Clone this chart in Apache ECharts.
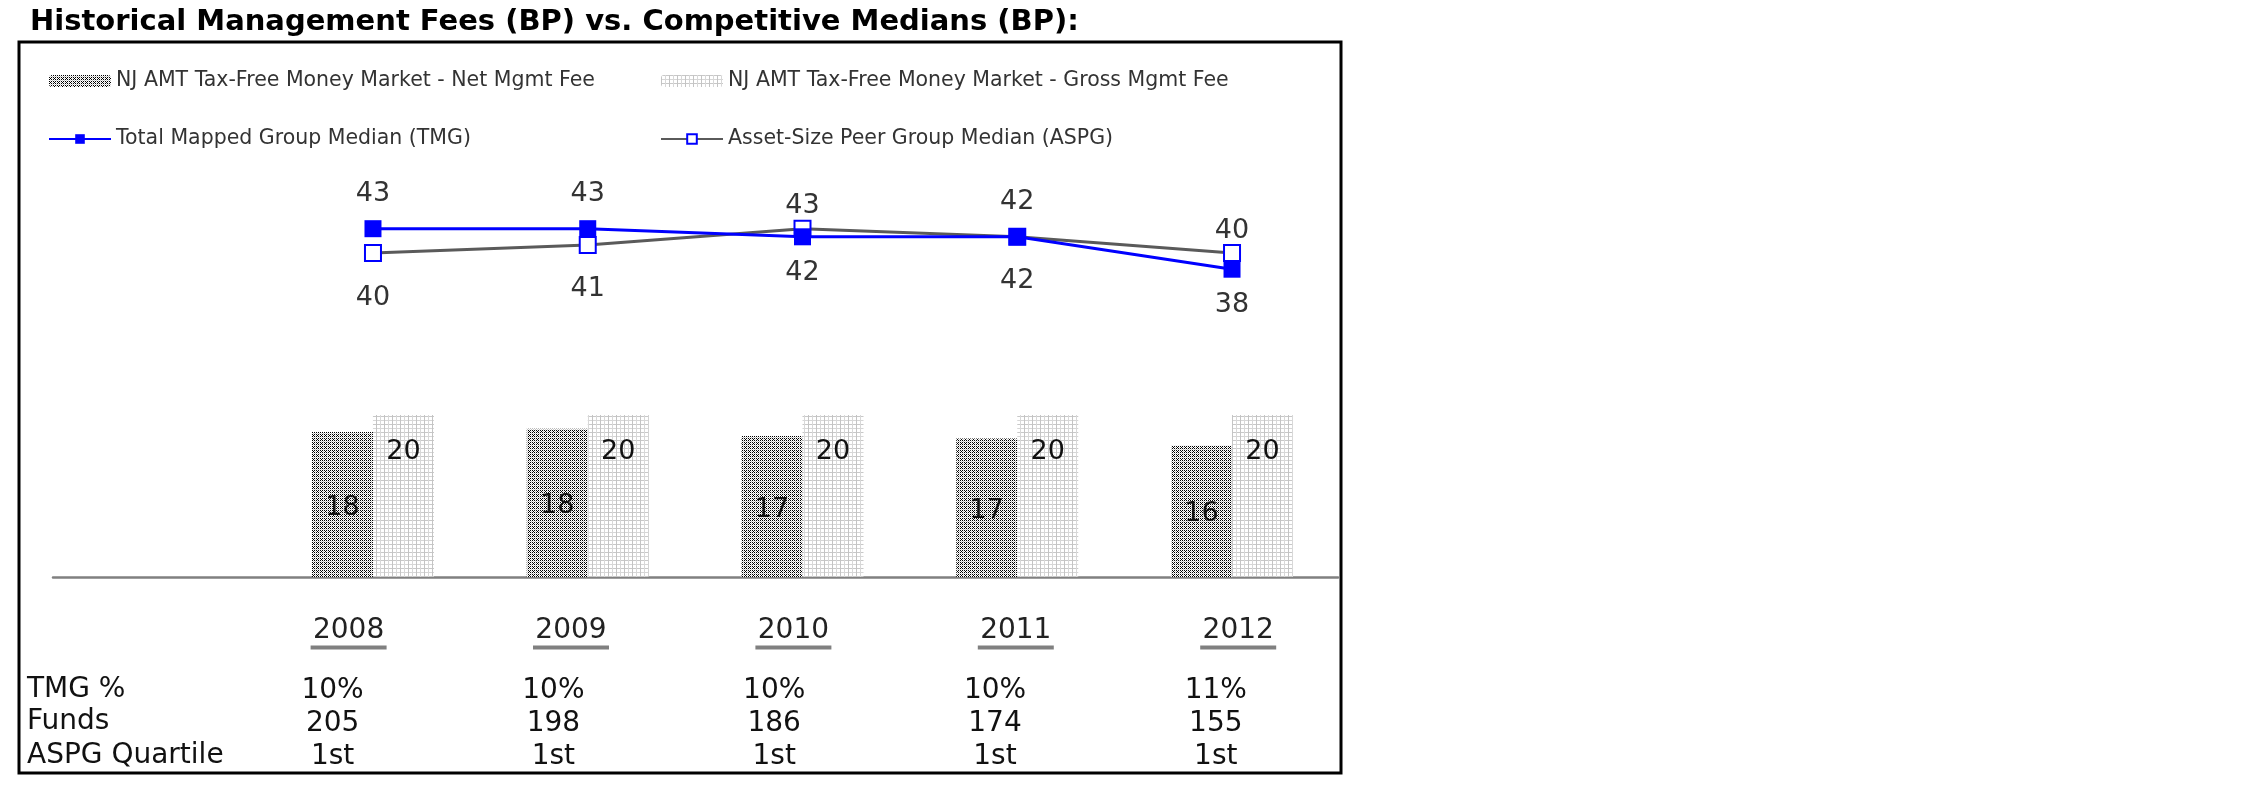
<!DOCTYPE html>
<html><head><meta charset="utf-8">
<script src="https://cdn.jsdelivr.net/npm/echarts/dist/echarts.min.js"></script>
<style>html,body{margin:0;padding:0;background:#fff}#c{width:2250px;height:796px}</style>
</head><body><div id="c"></div>
<script>
// ---- data ----
const years = ['2008', '2009', '2010', '2011', '2012'];
const netFee = [17.9, 18.3, 17.4, 17.1, 16.2];
const grossFee = [20, 20, 20, 20, 20];
const tmgMedian = [43, 43, 42, 42, 38];
const aspgMedian = [40, 41, 43, 42, 40];
const tmgPct = ['10%', '10%', '10%', '10%', '11%'];
const funds = [205, 198, 186, 174, 155];
const aspgQuartile = ['1st', '1st', '1st', '1st', '1st'];
const rowLabels = ['TMG %', 'Funds', 'ASPG Quartile'];
const seriesNames = [
  'NJ AMT Tax-Free Money Market - Net Mgmt Fee',
  'NJ AMT Tax-Free Money Market - Gross Mgmt Fee',
  'Total Mapped Group Median (TMG)',
  'Asset-Size Peer Group Median (ASPG)'
];
const titleText = 'Historical Management Fees (BP) vs. Competitive Medians (BP):';

// ---- patterns ----
function netPattern() {
  const c = document.createElement('canvas'); c.width = 4; c.height = 4;
  const g = c.getContext('2d');
  g.fillStyle = '#ffffff'; g.fillRect(0, 0, 4, 4);
  const cells = [
    ['#000', null, '#000', null],
    [null, '#c8c8c8', null, '#bdbdbd'],
    ['#000', null, '#000', null],
    [null, '#000', null, '#c8c8c8']
  ];
  for (let y = 0; y < 4; y++) for (let x = 0; x < 4; x++) {
    if (cells[y][x]) { g.fillStyle = cells[y][x]; g.fillRect(x, y, 1, 1); }
  }
  return c;
}
function grossPattern() {
  const c = document.createElement('canvas'); c.width = 8; c.height = 8;
  const g = c.getContext('2d');
  g.fillStyle = '#ffffff'; g.fillRect(0, 0, 8, 8);
  g.fillStyle = '#d6d6d6'; g.fillRect(0, 4, 8, 1);
  g.fillStyle = '#c8c8c8'; g.fillRect(0, 0, 8, 1);
  g.fillStyle = '#c4c4c4'; g.fillRect(0, 0, 1, 8);
  g.fillStyle = '#d8d8d8'; g.fillRect(4, 0, 1, 8);
  return c;
}

const FONT = 'DejaVu Sans';
const chart = echarts.init(document.getElementById('c'), null, {renderer: 'canvas'});

const tmgData = tmgMedian.map((v, i) => {
  const up = v >= aspgMedian[i];
  return {value: v, label: {position: up ? 'top' : 'bottom', distance: up ? 13 : 14}};
});
const aspgData = aspgMedian.map((v, i) => {
  const up = v > tmgMedian[i];
  return {value: v, label: {position: up ? 'top' : 'bottom', distance: up ? 0 : 22}};
});

const hiddenY = (gi) => ({type: 'value', gridIndex: gi, min: 0, max: 50, show: false});
const legendText = {fontFamily: FONT, fontSize: 20.5, color: '#333', lineHeight: 22};

chart.setOption({
  backgroundColor: '#ffffff',
  animation: false,
  title: {
    text: titleText, left: 30, top: 8, padding: 0,
    textStyle: {fontFamily: FONT, fontSize: 29, fontWeight: 'bold', color: '#000'}
  },
  legend: [
    {data: [seriesNames[0], seriesNames[2]], orient: 'vertical', left: 48, top: 70,
     itemWidth: 62, itemHeight: 12, itemGap: 36, textStyle: legendText, padding: 0},
    {data: [seriesNames[1], seriesNames[3]], orient: 'vertical', left: 660, top: 70,
     itemWidth: 62, itemHeight: 12, itemGap: 36, textStyle: legendText, padding: 0}
  ],
  grid: [
    {left: 265.6, right: 910.6, top: 172, bottom: 219},
    {left: 53, right: 912, top: 172, bottom: 219},
    {left: 237.4, right: 900.6, top: 172, bottom: 219},
    {left: 222.2, right: 923.8, top: 172, bottom: 219}
  ],
  xAxis: [
    {type: 'category', gridIndex: 0, data: years, show: false},
    {type: 'value', gridIndex: 1, min: 0, max: 1, axisLine: {show: true, onZero: false, lineStyle: {color: '#808080', width: 2.5}},
     axisTick: {show: false}, axisLabel: {show: false}, splitLine: {show: false}},
    {type: 'category', gridIndex: 2, data: years, axisLine: {show: false}, axisTick: {show: false},
     axisLabel: {margin: 40, formatter: v => '{y|' + v + '}\n{u| }',
       rich: {
         y: {fontFamily: FONT, fontSize: 28, lineHeight: 28, color: '#222'},
         u: {width: 76, height: 4, lineHeight: 5, backgroundColor: '#808080', fontSize: 1}
       }}},
    {type: 'category', gridIndex: 3, data: years, axisLine: {show: false}, axisTick: {show: false},
     axisLabel: {margin: 97, fontFamily: FONT, fontSize: 28, lineHeight: 33, color: '#111',
       formatter: (v, i) => tmgPct[i] + '\n' + funds[i] + '\n' + aspgQuartile[i]}}
  ],
  yAxis: [hiddenY(0), hiddenY(1), hiddenY(2), hiddenY(3)],
  series: [
    {name: seriesNames[0], type: 'bar', xAxisIndex: 0, yAxisIndex: 0, data: netFee,
     barWidth: 61, barGap: '0%',
     itemStyle: {color: {image: netPattern(), repeat: 'repeat'}},
     label: {show: true, position: 'inside', offset: [0, 3], fontFamily: FONT, fontSize: 27, color: '#111',
       textBorderWidth: 0, formatter: p => Math.round(p.value)}},
    {name: seriesNames[1], type: 'bar', xAxisIndex: 0, yAxisIndex: 0, data: grossFee,
     barWidth: 61,
     itemStyle: {color: {image: grossPattern(), repeat: 'repeat'}},
     label: {show: true, position: 'insideTop', distance: 23, fontFamily: FONT, fontSize: 27, color: '#111',
       textBorderWidth: 0, formatter: p => Math.round(p.value)}},
    {name: seriesNames[3], type: 'line', xAxisIndex: 0, yAxisIndex: 0, data: aspgData,
     symbol: 'rect', symbolSize: 16, z: 3,
     lineStyle: {color: '#5a5a5a', width: 3},
     itemStyle: {color: '#ffffff', borderColor: '#0000ff', borderWidth: 2},
     label: {show: true, fontFamily: FONT, fontSize: 27, color: '#333'}},
    {name: seriesNames[2], type: 'line', xAxisIndex: 0, yAxisIndex: 0, data: tmgData,
     symbol: 'rect', symbolSize: 17, z: 4,
     lineStyle: {color: '#0000ff', width: 3},
     itemStyle: {color: '#0000ff'},
     label: {show: true, fontFamily: FONT, fontSize: 27, color: '#333'}}
  ],
  graphic: [
    {type: 'rect', shape: {x: 19, y: 42, width: 1322, height: 731}, silent: true, z: 0,
     style: {fill: 'none', stroke: '#000', lineWidth: 3}},
    ...rowLabels.map((t, i) => ({
      type: 'text', left: 27, top: [676, 708, 742][i], silent: true,
      style: {text: t, fontFamily: FONT, fontSize: 28, fill: '#111'}
    }))
  ]
});
</script></body></html>
